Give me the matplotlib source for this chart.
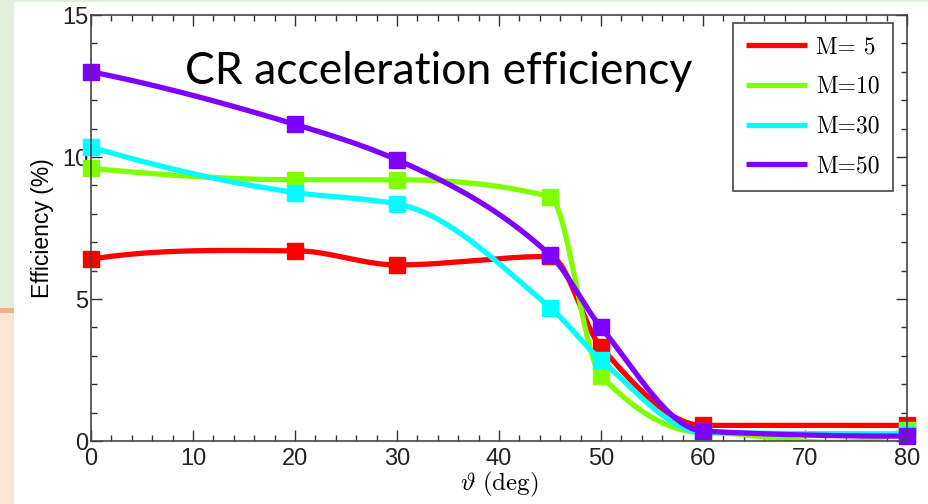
import numpy as np
import matplotlib.pyplot as plt
from matplotlib.patches import Rectangle
from matplotlib.ticker import MultipleLocator

plt.rcParams['mathtext.fontset'] = 'cm'

theta = [0, 20, 30, 45, 50, 60, 80]
eff_m5 = [6.4, 6.7, 6.2, 6.5, 3.3, 0.55, 0.55]
eff_m10 = [9.6, 9.2, 9.2, 8.6, 2.3, 0.3, 0.4]
eff_m30 = [10.35, 8.75, 8.35, 4.7, 2.85, 0.3, 0.25]
eff_m50 = [13.0, 11.15, 9.9, 6.55, 4.0, 0.35, 0.17]
labels = ['M= 5', 'M=10', 'M=30', 'M=50']
colors = ['#ff0000', '#80ff00', '#00ffff', '#8000ff']


# shape-preserving cubic (pchip) just for drawing the smooth line between points
def pchip(x, y, xs):
    x = np.asarray(x, float)
    y = np.asarray(y, float)
    h = np.diff(x)
    d = np.diff(y) / h
    n = len(x)
    m = np.zeros(n)
    for k in range(1, n - 1):
        if d[k - 1] * d[k] > 0:
            w1 = 2 * h[k] + h[k - 1]
            w2 = h[k] + 2 * h[k - 1]
            m[k] = (w1 + w2) / (w1 / d[k - 1] + w2 / d[k])
    m[0] = ((2 * h[0] + h[1]) * d[0] - h[0] * d[1]) / (h[0] + h[1])
    if np.sign(m[0]) != np.sign(d[0]):
        m[0] = 0
    m[-1] = ((2 * h[-1] + h[-2]) * d[-1] - h[-1] * d[-2]) / (h[-1] + h[-2])
    if np.sign(m[-1]) != np.sign(d[-1]):
        m[-1] = 0
    idx = np.clip(np.searchsorted(x, xs) - 1, 0, n - 2)
    t = (xs - x[idx]) / h[idx]
    h00 = 2 * t**3 - 3 * t**2 + 1
    h10 = t**3 - 2 * t**2 + t
    h01 = -2 * t**3 + 3 * t**2
    h11 = t**3 - t**2
    return h00 * y[idx] + h10 * h[idx] * m[idx] + h01 * y[idx + 1] + h11 * h[idx] * m[idx + 1]


fig = plt.figure(figsize=(9.29, 5.04), dpi=100)
fig.patch.set_facecolor('white')

# slide decoration on the left
fig.patches.append(Rectangle((0, 1 - 308 / 504), 14 / 929, 308 / 504, transform=fig.transFigure,
                             facecolor='#e2efda', edgecolor='none', zorder=0))
fig.patches.append(Rectangle((0, 0), 14 / 929, 191 / 504, transform=fig.transFigure,
                             facecolor='#fbe5d6', edgecolor='none', zorder=0))
fig.patches.append(Rectangle((0, 1 - 313 / 504), 14 / 929, 5 / 504, transform=fig.transFigure,
                             facecolor='#f4b183', edgecolor='none', zorder=0))
fig.patches.append(Rectangle((0, 1 - 2 / 504), 1, 2 / 504, transform=fig.transFigure,
                             facecolor='#e2efda', edgecolor='none', zorder=0))

ax = fig.add_axes([91 / 929, 63 / 504, 816 / 929, 426 / 504])

xs = np.linspace(0, 80, 800)
series = [eff_m5, eff_m10, eff_m30, eff_m50]
for vals, col, lab in zip(series, colors, labels):
    ax.plot(xs, pchip(theta, vals, xs), color=col, lw=3.8, label=lab, solid_capstyle='butt')
    ax.plot(theta, vals, ls='none', marker='s', ms=12, color=col, clip_on=False)

ax.set_xlim(0, 80)
ax.set_ylim(0, 15)
ax.xaxis.set_major_locator(MultipleLocator(10))
ax.xaxis.set_minor_locator(MultipleLocator(2))
ax.yaxis.set_major_locator(MultipleLocator(5))
ax.yaxis.set_minor_locator(MultipleLocator(1))
ax.tick_params(which='both', direction='in', top=True, right=True, labelsize=17,
               color='#333333', width=1)
ax.tick_params(which='major', length=8)
ax.tick_params(which='minor', length=4)
ax.tick_params(axis='y', pad=2)
ax.tick_params(axis='x', pad=5)
for s in ax.spines.values():
    s.set_color('#444444')
    s.set_linewidth(1.2)
for lbl in ax.get_xticklabels() + ax.get_yticklabels():
    lbl.set_family('Liberation Sans')
    lbl.set_color('#222222')

ax.set_xlabel(r'$\vartheta\ \mathrm{(deg)}$', fontsize=18, labelpad=0)
ax.set_ylabel('Efficiency (%)', fontsize=16.5, family='Liberation Sans', labelpad=6)

leg = ax.legend(loc='upper right', bbox_to_anchor=(893 / 929, 1 - 23 / 504),
                bbox_transform=fig.transFigure, handlelength=2.6,
                labelspacing=0.75, borderpad=0.55, fancybox=False, framealpha=1,
                edgecolor='#444444', borderaxespad=0, handletextpad=0.4,
                prop={'family': 'cmr10', 'size': 17})
leg.get_frame().set_linewidth(1.2)

fig.text(439 / 929, 1 - 72 / 504, 'CR acceleration efficiency', ha='center', va='center',
         fontsize=32, family='Lato')

fig.savefig('out.png', dpi=100)
